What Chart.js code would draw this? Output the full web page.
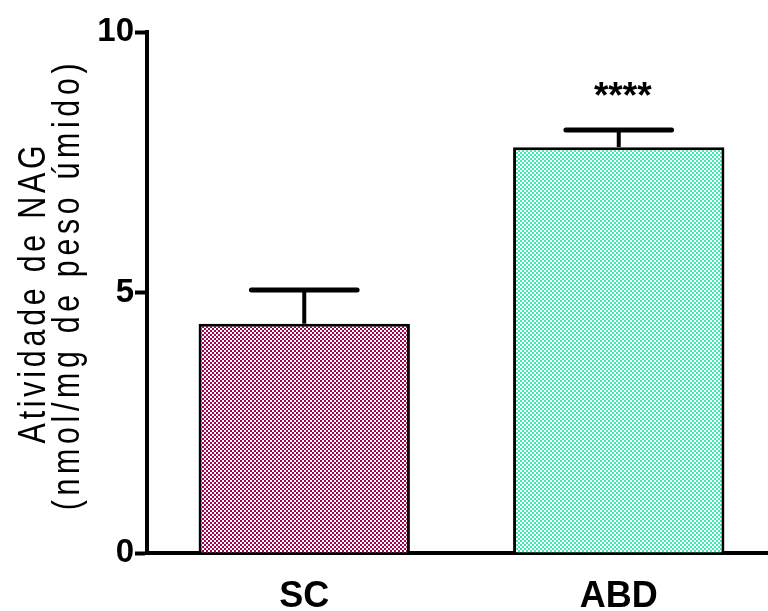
<!DOCTYPE html>
<html>
<head>
<meta charset="utf-8">
<script src="https://cdn.jsdelivr.net/npm/chart.js@4/dist/chart.umd.min.js"></script>
<style>
  html, body { margin: 0; padding: 0; background: #fff; overflow: hidden; }
  #clip { width: 768px; height: 611px; overflow: hidden; position: relative; }
  #wrap { width: 776px; height: 611px; position: absolute; left: 0; top: 0; }
</style>
</head>
<body>
<div id="clip"><div id="wrap"><canvas id="nagChart"></canvas></div></div>
<script>
var categories = ['SC', 'ABD']
var means = [4.40, 7.79]
var sems = [0.65, 0.33]
var stars = ['', '****']
var yTicks = [0, 5, 10]
var yTitle = ['Atividade de NAG', '(nmol/mg de peso úmido)']

;(function (window, document, Chart) {
  var ctx = document.getElementById('nagChart').getContext('2d')

  // small checkerboard fill, 2px squares
  function checker (color) {
    var c = document.createElement('canvas')
    c.width = 4
    c.height = 4
    var g = c.getContext('2d')
    g.fillStyle = '#fff'
    g.fillRect(0, 0, 4, 4)
    g.fillStyle = color
    g.fillRect(0, 0, 2, 2)
    g.fillRect(2, 2, 2, 2)
    return ctx.createPattern(c, 'repeat')
  }

  // error bars (upper only) and significance marks
  var errorBars = {
    id: 'errorBars',
    afterDatasetsDraw: function (chart) {
      var c = chart.ctx
      var y = chart.scales.y
      var meta = chart.getDatasetMeta(0)
      c.save()
      c.strokeStyle = '#000'
      c.fillStyle = '#000'
      meta.data.forEach(function (bar, i) {
        var top = y.getPixelForValue(means[i])
        var up = y.getPixelForValue(means[i] + sems[i])
        var half = bar.width / 4
        c.lineCap = 'butt'
        c.lineWidth = 4
        c.beginPath()
        c.moveTo(bar.x, top)
        c.lineTo(bar.x, up)
        c.stroke()
        c.lineCap = 'round'
        c.lineWidth = 5
        c.beginPath()
        c.moveTo(bar.x - half, up)
        c.lineTo(bar.x + half, up)
        c.stroke()
        if (stars[i]) {
          c.font = 'bold 37px "Liberation Sans", Arial, sans-serif'
          c.textAlign = 'center'
          c.textBaseline = 'alphabetic'
          c.fillText(stars[i], bar.x + 4, up - 22)
        }
      })
      c.restore()
    }
  }

  // rotated y title: tall narrow glyphs with wide spacing like the original
  var yAxisTitle = {
    id: 'yAxisTitle',
    afterDraw: function (chart) {
      var c = chart.ctx
      var y = chart.scales.y
      var mid = (y.top + y.bottom) / 2
      c.save()
      c.translate(0, mid)
      c.rotate(-Math.PI / 2)
      c.scale(0.8, 1)
      c.fillStyle = '#000'
      c.font = '38px "Liberation Sans", Arial, sans-serif'
      c.textAlign = 'center'
      c.textBaseline = 'alphabetic'
      c.letterSpacing = '4.7px'
      c.fillText(yTitle[0], 0, 45)
      c.letterSpacing = '5.8px'
      c.fillText(yTitle[1], 10, 79)
      c.restore()
    }
  }

  new Chart(ctx, {
    type: 'bar',
    data: {
      labels: categories,
      datasets: [{
        data: means,
        backgroundColor: [checker('#a3004f'), checker('#3eeeb0')],
        borderColor: '#000',
        borderWidth: 3,
        borderSkipped: 'bottom',
        categoryPercentage: 1,
        barPercentage: 0.672
      }]
    },
    options: {
      responsive: true,
      maintainAspectRatio: false,
      animation: false,
      layout: { padding: { top: 32, right: 0, bottom: 0, left: 0 } },
      plugins: {
        legend: { display: false },
        tooltip: { enabled: false }
      },
      scales: {
        x: {
          grid: { display: false, drawTicks: false },
          border: { display: true, color: '#000', width: 4 },
          ticks: {
            color: '#000',
            padding: 22,
            font: { family: '"Liberation Sans", Arial, sans-serif', size: 36, weight: 'bold' }
          },
          afterFit: function (s) { s.height = 58 }
        },
        y: {
          min: 0,
          max: 10,
          afterBuildTicks: function (s) {
            s.ticks = yTicks.map(function (v) { return { value: v } })
          },
          grid: {
            drawOnChartArea: false,
            drawTicks: true,
            tickLength: 12,
            tickWidth: 4,
            tickColor: '#000'
          },
          border: { display: true, color: '#000', width: 4 },
          ticks: {
            color: '#000',
            padding: 1,
            font: { family: '"Liberation Sans", Arial, sans-serif', size: 33, weight: 'bold' }
          },
          afterFit: function (s) { s.width = 147 }
        }
      }
    },
    plugins: [errorBars, yAxisTitle]
  })
})(window, document, Chart);
</script>
</body>
</html>
